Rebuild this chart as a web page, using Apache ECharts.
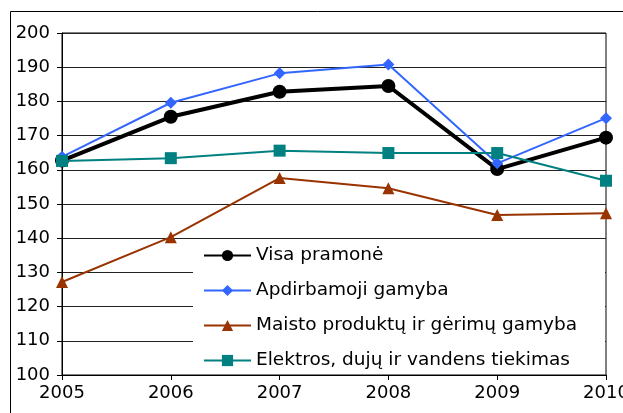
<!DOCTYPE html>
<html>
<head>
<meta charset="utf-8">
<script src="https://cdn.jsdelivr.net/npm/echarts@6/dist/echarts.min.js"></script>
<style>html,body{margin:0;padding:0;background:#fff}#c{width:623px;height:413px}</style>
</head>
<body>
<div id="c"></div>
<script>
const years = ['2005', '2006', '2007', '2008', '2009', '2010'];
const visaPramone = [162.7, 175.5, 182.8, 184.5, 160.2, 169.4];
const apdirbamoji = [163.8, 179.6, 188.2, 190.8, 161.9, 175.1];
const maisto = [127.2, 140.3, 157.6, 154.6, 146.8, 147.3];
const elektros = [162.6, 163.4, 165.6, 164.9, 164.9, 156.8];
const seriesNames = ['Visa pramonė', 'Apdirbamoji gamyba', 'Maisto produktų ir gėrimų gamyba', 'Elektros, dujų ir vandens tiekimas'];

const FONT = 'DejaVu Sans';
const chart = echarts.init(document.getElementById('c'), null, {renderer: 'canvas'});
chart.setOption({
  animation: false,
  backgroundColor: '#fff',
  textStyle: {fontFamily: FONT},
  grid: {left: 62, top: 33, width: 544, height: 342, containLabel: false, outerBoundsMode: 'none',
         show: true, borderColor: '#000', borderWidth: 1, backgroundColor: 'transparent'},
  graphic: [
    {type: 'rect', z: 1, shape: {x: 10.5, y: 11.5, width: 800, height: 600}, style: {fill: 'none', stroke: '#000', lineWidth: 1}},
    {type: 'rect', z: 1, shape: {x: 193, y: 244, width: 412, height: 130}, style: {fill: '#fff', stroke: 'none'}}
  ],
  legend: {
    orient: 'vertical', left: 203, top: 246, padding: 0,
    itemWidth: 47, itemHeight: 14, itemGap: 16,
    textStyle: {fontFamily: FONT, fontSize: 18.5, color: '#000'},
    data: seriesNames
  },
  xAxis: {
    type: 'category', data: years, boundaryGap: false,
    axisLine: {lineStyle: {color: '#000', width: 1}},
    axisTick: {show: true, length: 5, lineStyle: {color: '#000'}},
    axisLabel: {color: '#000', fontFamily: FONT, fontSize: 18, margin: 9},
    splitLine: {show: false}
  },
  yAxis: {
    type: 'value', min: 100, max: 200, interval: 10,
    axisLine: {show: true, lineStyle: {color: '#000', width: 1}},
    axisTick: {show: true, length: 5, lineStyle: {color: '#000'}},
    axisLabel: {color: '#000', fontFamily: FONT, fontSize: 18, margin: 12},
    splitLine: {show: true, lineStyle: {color: '#222', width: 1}}
  },
  series: [
    {name: seriesNames[0], type: 'line', data: visaPramone, color: '#000',
     symbol: 'circle', symbolSize: 14, lineStyle: {width: 4, color: '#000'}, itemStyle: {color: '#000'}, z: 2},
    {name: seriesNames[1], type: 'line', data: apdirbamoji, color: '#3366FF',
     symbol: 'diamond', symbolSize: 12, lineStyle: {width: 2, color: '#3366FF'}, itemStyle: {color: '#3366FF'}, z: 3},
    {name: seriesNames[2], type: 'line', data: maisto, color: '#993300',
     symbol: 'triangle', symbolSize: 12, lineStyle: {width: 2, color: '#993300'}, itemStyle: {color: '#993300'}, z: 4},
    {name: seriesNames[3], type: 'line', data: elektros, color: '#008080',
     symbol: 'rect', symbolSize: 12, lineStyle: {width: 2, color: '#008080'}, itemStyle: {color: '#008080'}, z: 5}
  ]
});
</script>
</body>
</html>
